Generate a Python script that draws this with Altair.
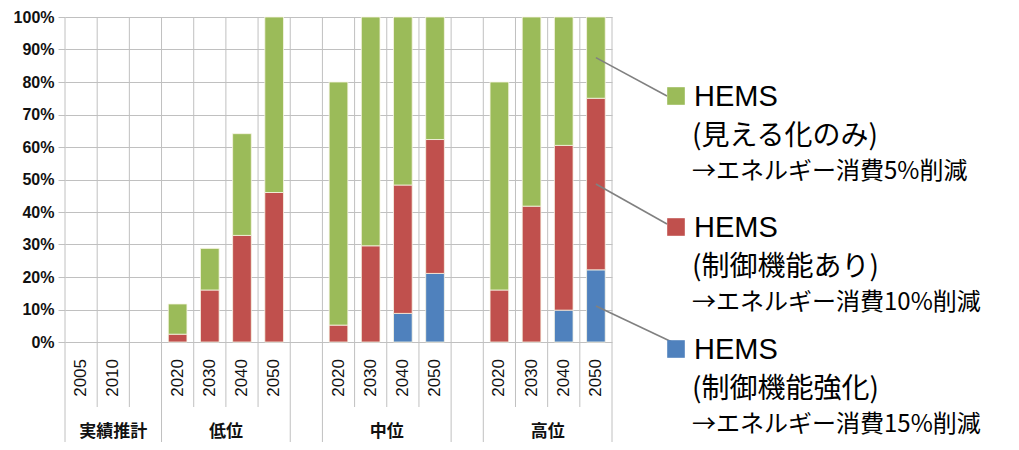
import altair as alt
import pandas as pd

# ---------------- data ----------------
actual_group = "実績推計"
actual_years = ["2005", "2010"]
scenarios = ["低位", "中位", "高位"]
proj_years = ["2020", "2030", "2040", "2050"]

series_line1 = ["HEMS", "HEMS", "HEMS"]
series_line2 = ["(見える化のみ)", "(制御機能あり)", "(制御機能強化)"]
series_line3 = ["→エネルギー消費5%削減", "→エネルギー消費10%削減", "→エネルギー消費15%削減"]
colors = ["#9BBB59", "#C0504D", "#4F81BD"]

# shares (%) per scenario for 2020, 2030, 2040, 2050
visual_only = [[9.3, 12.8, 31.3, 54.0], [74.8, 70.4, 51.7, 37.7], [64.0, 58.2, 39.5, 25.0]]
control = [[2.4, 16.0, 32.8, 46.0], [5.2, 29.6, 39.5, 41.2], [16.0, 41.8, 50.7, 52.8]]
enhanced = [[0.0, 0.0, 0.0, 0.0], [0.0, 0.0, 8.8, 21.1], [0.0, 0.0, 9.8, 22.2]]
actual_values = [0.0, 0.0]

y_ticks = [0, 10, 20, 30, 40, 50, 60, 70, 80, 90, 100]

# ---------------- slot layout ----------------
slots = []  # (group, year, enhanced, control, visual)
for yr, v in zip(actual_years, actual_values):
    slots.append((actual_group, yr, 0.0, 0.0, v))
slots.append((actual_group, "", 0.0, 0.0, 0.0))
for gi, sc in enumerate(scenarios):
    for yi, yr in enumerate(proj_years):
        slots.append((sc, yr, enhanced[gi][yi], control[gi][yi], visual_only[gi][yi]))
    if gi < len(scenarios) - 1:
        slots.append(("", "", 0.0, 0.0, 0.0))
n = len(slots)

bar_rows = []
for i, (g, yr, e, c, v) in enumerate(slots):
    base = 0.0
    for k, val in [(2, e), (1, c), (0, v)]:
        if val > 0:
            bar_rows.append(dict(x0=i + 0.21, x1=i + 0.79, y0=base, y1=base + val,
                                 s=series_line2[k]))
            base += val
bars_df = pd.DataFrame(bar_rows)

bounds = []
for b in range(n + 1):
    if b == 0 or b == n:
        long_ = True
    else:
        long_ = slots[b][0] != slots[b - 1][0]
    bounds.append(dict(b=b, long=long_))
bounds_df = pd.DataFrame(bounds)

year_df = pd.DataFrame([dict(xc=i + 0.5, year=s[1]) for i, s in enumerate(slots) if s[1]])

grp_rows = []
for g in [actual_group] + scenarios:
    idx = [i for i, s in enumerate(slots) if s[0] == g]
    grp_rows.append(dict(xc=(min(idx) + max(idx) + 1) / 2, g=g))
grp_df = pd.DataFrame(grp_rows)

# leader lines start at the middle of each segment of the last bar
last = n - 1
le, lc, lv = slots[last][2], slots[last][3], slots[last][4]
leader_mid = [le + lc + lv / 2, le + lc / 2, le / 2]

W, H = 547, 325
x_scale = alt.Scale(domain=[0, n], nice=False, zero=False)
y_scale = alt.Scale(domain=[0, 100], nice=False)
y_axis = alt.Axis(values=y_ticks, labelExpr="datum.value + '%'", grid=True,
                  gridColor="#c0c0c0", domain=False, ticks=True, tickSize=7,
                  tickColor="#c0c0c0", labelFont="Liberation Sans",
                  labelFontWeight="bold", labelFontSize=16, labelColor="#111",
                  labelPadding=4, labelOverlap=False, title=None)
GRID = "#c0c0c0"

short_rules = alt.Chart(bounds_df).transform_filter("!datum.long").mark_rule(
    color=GRID, strokeWidth=1).encode(
    x=alt.X("b:Q", scale=x_scale, axis=None), y=alt.value(0), y2=alt.value(390))
long_rules = alt.Chart(bounds_df).transform_filter("datum.long").mark_rule(
    color=GRID, strokeWidth=1).encode(
    x=alt.X("b:Q", scale=x_scale, axis=None), y=alt.value(0), y2=alt.value(426))

bars = alt.Chart(bars_df).mark_bar(stroke="#f7f5e4", strokeWidth=0.8).encode(
    x=alt.X("x0:Q", scale=x_scale, axis=None), x2="x1:Q",
    y=alt.Y("y0:Q", scale=y_scale, axis=y_axis), y2="y1:Q",
    color=alt.Color("s:N", scale=alt.Scale(domain=series_line2, range=colors), legend=None))

years_txt = alt.Chart(year_df).mark_text(
    font="Liberation Sans", fontSize=17, angle=270, align="right", baseline="middle",
    color="#111").encode(
    x=alt.X("xc:Q", scale=x_scale, axis=None), y=alt.value(342), text="year:N")

grp_txt = alt.Chart(grp_df).mark_text(
    font="Noto Sans CJK JP", fontSize=17, fontWeight="bold", baseline="middle",
    color="#111").encode(
    x=alt.X("xc:Q", scale=x_scale, axis=None), y=alt.value(415), text="g:N")

layers = [short_rules, long_rules, bars, years_txt, grp_txt]

sq_y = [79, 210, 332]
line_end = [(602, 79), (602, 207), (607, 325)]
for k in range(3):
    row = pd.DataFrame([dict(x=last + 0.5, y=leader_mid[k], l1=series_line1[k],
                             l2=series_line2[k], l3=series_line3[k])])
    ex, ey = line_end[k]
    layers.append(alt.Chart(row).mark_rule(color="#808080", strokeWidth=1.6).encode(
        x=alt.X("x:Q", scale=x_scale, axis=None),
        y=alt.Y("y:Q", scale=y_scale, axis=y_axis),
        x2=alt.value(ex), y2=alt.value(ey)))
    layers.append(alt.Chart(row).mark_square(size=310, opacity=1, color=colors[k]).encode(
        x=alt.value(611), y=alt.value(sq_y[k])))
    layers.append(alt.Chart(row).mark_text(
        font="Liberation Sans", fontSize=29, align="left", baseline="middle", color="#000").encode(
        x=alt.value(629), y=alt.value(sq_y[k] + 1), text="l1:N"))
    layers.append(alt.Chart(row).mark_text(
        font="Noto Sans CJK JP", fontSize=28, align="left", baseline="middle", color="#000").encode(
        x=alt.value(627), y=alt.value(sq_y[k] + 41), text="l2:N"))
    layers.append(alt.Chart(row).mark_text(
        font="Noto Sans CJK JP", fontSize=24, align="left", baseline="middle", color="#000").encode(
        x=alt.value(627), y=alt.value(sq_y[k] + 76), text="l3:N"))

chart = alt.layer(*layers).properties(
    width=W, height=H,
    autosize=alt.AutoSizeParams(type="none"),
    padding={"left": 57, "top": 9, "right": 399, "bottom": 100},
    background="white",
).configure_view(strokeWidth=0)

chart.save("out.html", embed_options={"renderer": "svg", "actions": False})
